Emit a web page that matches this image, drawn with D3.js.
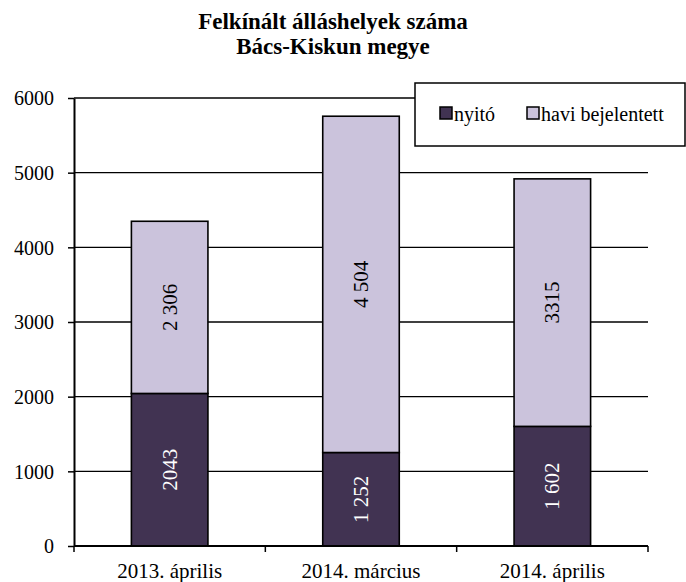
<!DOCTYPE html>
<html>
<head>
<meta charset="utf-8">
<script src="https://cdn.jsdelivr.net/npm/d3@7"></script>
</head>
<body style="margin:0; background:#fff">
<script>
var width = 686
var height = 582
var serifFont = "'Liberation Serif', Tinos, 'Times New Roman', serif"

var categories = ["2013. április", "2014. március", "2014. április"]
var nyito = [2043, 1252, 1602]
var havi = [2306, 4504, 3315]
var nyitoLabels = ["2043", "1 252", "1 602"]
var haviLabels = ["2 306", "4 504", "3315"]
var seriesNames = ["nyitó", "havi bejelentett"]
var yTicks = [0, 1000, 2000, 3000, 4000, 5000, 6000]

var colors = ["#413352", "#cbc3dc"]

var margin = { left: 74, right: 38, top: 98, bottom: 36 }
var plotW = width - margin.left - margin.right
var plotH = height - margin.top - margin.bottom

var svg = d3.select("body").append("svg")
            .attr("width", width)
            .attr("height", height)

var scaleX = d3.scaleBand()
               .domain(categories)
               .range([margin.left, margin.left + plotW])
               .paddingInner(0.6)
               .paddingOuter(0.3)

var scaleY = d3.scaleLinear()
               .domain([0, 6000])
               .range([margin.top + plotH, margin.top])

// title
var titleLines = ["Felkínált álláshelyek száma", "Bács-Kiskun megye"]
svg.selectAll(".title")
  .data(titleLines)
  .enter().append("text")
  .attr("class", "title")
  .attr("x", 333).attr("y", (d, i) => 29 + i * 25)
  .attr("text-anchor", "middle")
  .style("font-weight", "bold")
  .style("font-size", "23px")
  .text(d => d)

// gridlines
svg.append("g")
  .selectAll("line")
  .data(yTicks.slice(1))
  .enter().append("line")
  .attr("x1", margin.left).attr("x2", margin.left + plotW)
  .attr("y1", d => scaleY(d)).attr("y2", d => scaleY(d))
  .style("stroke", "#000").style("stroke-width", 1.3)

// y axis
var axisLeft = d3.axisLeft(scaleY).tickValues(yTicks)
                 .tickSizeInner(6).tickSizeOuter(0).tickPadding(14)
                 .tickFormat(d3.format("d"))
var gy = svg.append("g")
  .attr("transform", "translate(" + margin.left + ",0)")
  .call(axisLeft)
gy.select(".domain").style("stroke-width", 2)
gy.selectAll("line").style("stroke-width", 1.5)
gy.selectAll("text").style("font-size", "20px").attr("dy", "0.34em")

// stacked bars
var stackData = categories.map(function (c, i) {
  return { cat: c, vals: [nyito[i], havi[i]], labels: [nyitoLabels[i], haviLabels[i]] }
})

var groups = svg.selectAll(".bar")
  .data(stackData)
  .enter().append("g")
  .attr("class", "bar")

groups.each(function (d) {
  var g = d3.select(this)
  var base = 0
  d.vals.forEach(function (v, k) {
    var y0 = scaleY(base), y1 = scaleY(base + v)
    g.append("rect")
      .attr("x", scaleX(d.cat))
      .attr("y", y1)
      .attr("width", scaleX.bandwidth())
      .attr("height", y0 - y1)
      .style("fill", colors[k])
      .style("stroke", "#000")
      .style("stroke-width", 1.6)
    var cx = scaleX(d.cat) + scaleX.bandwidth() / 2
    var cy = (y0 + y1) / 2
    g.append("text")
      .attr("transform", "translate(" + (cx + 7) + "," + cy + ") rotate(-90)")
      .attr("text-anchor", "middle")
      .style("font-size", "21px")
      .style("fill", k === 0 ? "#fff" : "#000")
      .text(d.labels[k])
    base += v
  })
})

// x axis
var xBounds = [0, 1, 2, 3].map(function (i) { return margin.left + i * plotW / 3 })
svg.append("line")
  .attr("x1", margin.left).attr("x2", margin.left + plotW)
  .attr("y1", scaleY(0)).attr("y2", scaleY(0))
  .style("stroke", "#000").style("stroke-width", 2)
svg.selectAll(".xtick")
  .data(xBounds)
  .enter().append("line")
  .attr("class", "xtick")
  .attr("x1", d => d).attr("x2", d => d)
  .attr("y1", scaleY(0)).attr("y2", scaleY(0) + 6)
  .style("stroke", "#000").style("stroke-width", 1.5)
svg.selectAll(".xlabel")
  .data(categories)
  .enter().append("text")
  .attr("class", "xlabel")
  .attr("x", d => scaleX(d) + scaleX.bandwidth() / 2)
  .attr("y", scaleY(0) + 32)
  .attr("text-anchor", "middle")
  .style("font-size", "21px")
  .text(d => d)

// legend
var legend = svg.append("g")
legend.append("rect")
  .attr("x", 415).attr("y", 83)
  .attr("width", 270).attr("height", 63)
  .style("fill", "#fff").style("stroke", "#000").style("stroke-width", 1.5)
var legendX = [440, 527]
seriesNames.forEach(function (n, k) {
  legend.append("rect")
    .attr("x", legendX[k]).attr("y", 107)
    .attr("width", 12).attr("height", 12)
    .style("fill", colors[k]).style("stroke", "#000").style("stroke-width", 1.5)
  legend.append("text")
    .attr("x", legendX[k] + 14).attr("y", 121)
    .style("font-size", "20px")
    .text(n)
})

// serif on every text, with priority
svg.selectAll("text").style("font-family", serifFont, "important")
</script>
</body>
</html>
